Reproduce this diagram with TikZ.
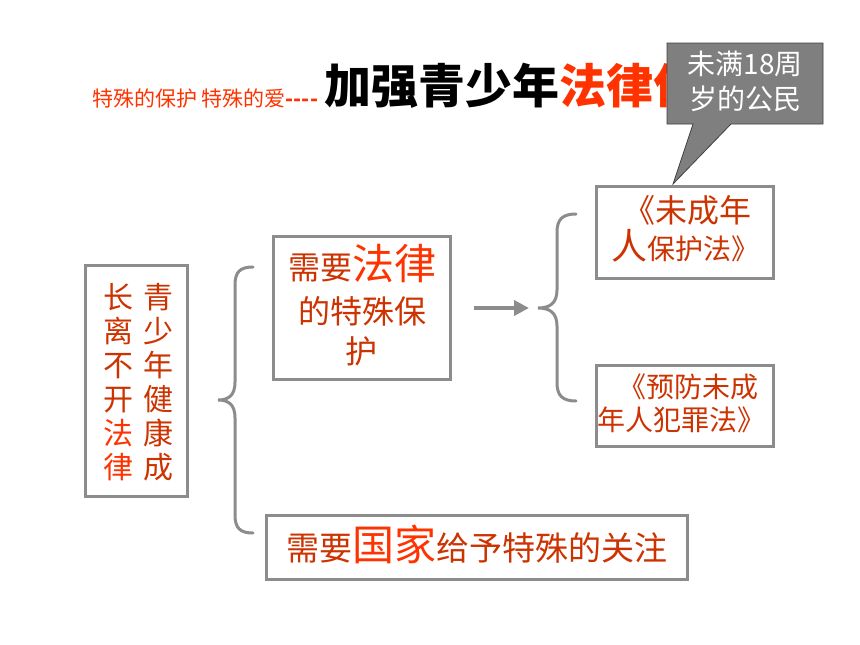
\documentclass[tikz,border=0pt]{standalone}
\usepackage{fontspec}
\setmainfont{Noto Sans CJK SC}
\usetikzlibrary{arrows.meta}
\definecolor{txtdark}{HTML}{CC3300}
\definecolor{txtred}{HTML}{FF3300}
\definecolor{boxgray}{HTML}{8C8C8C}
\definecolor{callfill}{HTML}{7F7F7F}
\definecolor{callline}{HTML}{404040}
\newcommand{\fsz}[1]{\fontsize{#1}{#1}\selectfont}
\begin{document}
\begin{tikzpicture}[x=1pt,y=-1pt,
  framebox/.style={draw=boxgray,line width=3pt,inner sep=0pt,fill=white},
  bracepath/.style={draw=boxgray,line width=3pt,line cap=round},
  body/.style={text=txtdark,inner sep=0pt,align=center},
  callouttext/.style={text=white,inner sep=0pt,anchor=base,font=\fsz{28}}]
\useasboundingbox[fill=white] (0,0) rectangle (860,645);

% ---- title ----
\node[anchor=base west,inner sep=0pt,text=txtred,font=\fsz{21}] (subtitle) at (92,106) {特殊的保护 特殊的爱\textbf{-{}-{}-{}-}};
\node[anchor=base west,inner sep=0pt,text=black,font=\fsz{47}\bfseries] (title) at (324,103) {加强青少年\textcolor{txtred}{法律保}};

% ---- callout ----
\coordinate (calltip) at (673,184);
\draw[fill=callfill,draw=callline,line width=0.8pt]
  (667,43) -- (823,43) -- (823,124) -- (731,124) -- (calltip) -- (693,124) -- (667,124) -- cycle;
\node[callouttext] (callA) at (745,74) {未满18周};
\node[callouttext] (callB) at (745,109) {岁的公民};

% ---- left box ----
\node[framebox,minimum width=102pt,minimum height=231pt] (youthbox) at (136,381) {};
\node[body,font=\fontsize{30}{34}\selectfont] (colR) at (158,382) {青\\少\\年\\健\\康\\成};
\node[body,font=\fontsize{30}{34}\selectfont] (colL) at (118,382) {长\\离\\不\\开\\\textcolor{txtred}{法}\\\textcolor{txtred}{律}};

% ---- brace 1 ----
\coordinate (b1top) at (253,267);
\coordinate (b1tip) at (218,400);
\coordinate (b1bot) at (253,533);
\draw[bracepath] (b1top) .. controls (240,267) and (235,272) .. (235,285) -- (235,382)
  .. controls (235,395) and (229,400) .. (b1tip)
  .. controls (229,400) and (235,405) .. (235,418) -- (235,515)
  .. controls (235,528) and (240,533) .. (b1bot);

% ---- law box ----
\node[framebox,minimum width=177pt,minimum height=143pt] (lawbox) at (361.5,307.5) {};
\node[body,anchor=base] (lawA) at (362,279) {{\fsz{32}需要}{\fsz{42}\textcolor{txtred}{法律}}};
\node[body,anchor=base,font=\fsz{32}] (lawB) at (362,323) {的特殊保};
\node[body,anchor=base,font=\fsz{32}] (lawC) at (361,363) {护};

% ---- arrow ----
\coordinate (arrS) at (474,308);
\coordinate (arrE) at (529,308);
\draw[draw=boxgray,line width=4pt,-{Triangle[length=15pt,width=15pt]}] (arrS) -- (arrE);

% ---- brace 2 ----
\coordinate (b2top) at (576,214);
\coordinate (b2tip) at (538,308);
\coordinate (b2bot) at (576,401);
\draw[bracepath] (b2top) .. controls (563,214) and (557,219) .. (557,232) -- (557,290)
  .. controls (557,303) and (550,308) .. (b2tip)
  .. controls (550,308) and (557,313) .. (557,326) -- (557,383)
  .. controls (557,396) and (563,401) .. (b2bot);

% ---- law 1 ----
\node[framebox,minimum width=177pt,minimum height=92pt] (lawone) at (684.5,232) {};
\node[body,anchor=base,font=\fsz{32}] (loneA) at (687,222) {《未成年};
\node[body,anchor=base,font=\fsz{28}] (loneB) at (685,259) {{\fsz{36}人}保护法》};

% ---- law 2 ----
\node[framebox,minimum width=177pt,minimum height=81pt] (lawtwo) at (684.5,405.5) {};
\node[body,anchor=base,font=\fsz{28}] (ltwoA) at (688,397) {《预防未成};
\node[body,anchor=base,font=\fsz{28}] (ltwoB) at (681,430) {年人犯罪法》};

% ---- bottom box ----
\node[framebox,minimum width=421pt,minimum height=64pt] (statebox) at (477,547) {};
\node[body,anchor=base] (stateT) at (477,560) {{\fsz{33}需要}{\fsz{42}\textcolor{txtred}{国家}}{\fsz{33}给予特殊的关注}};
\end{tikzpicture}
\end{document}
